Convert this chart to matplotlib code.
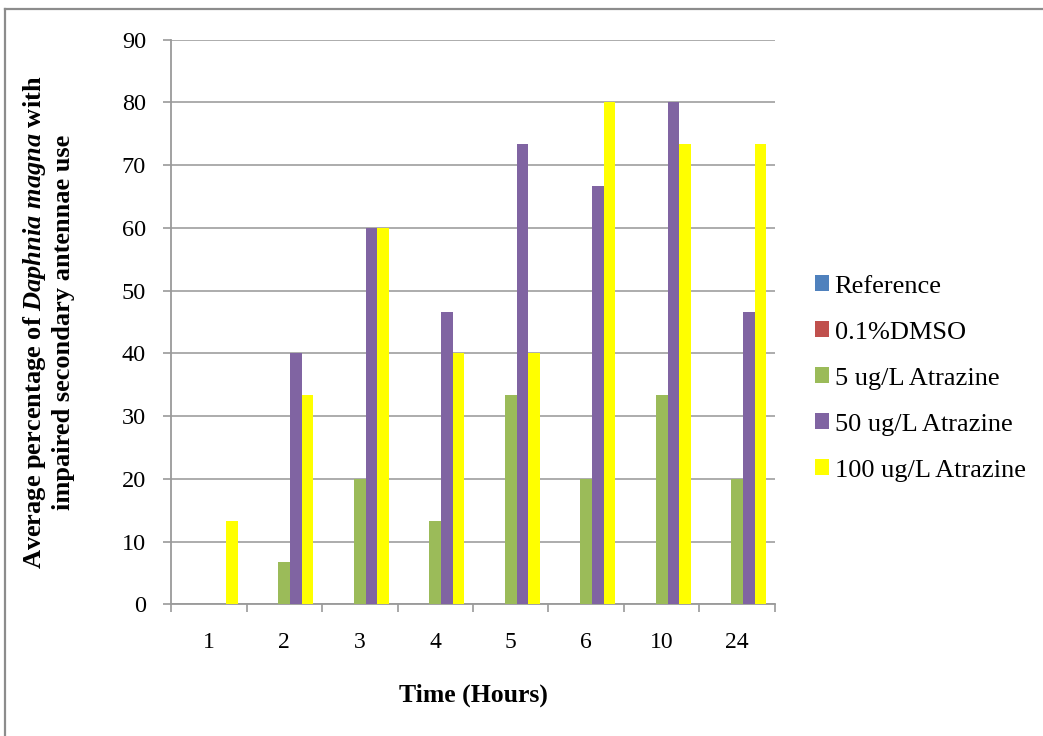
import matplotlib
matplotlib.use("Agg")
import matplotlib.pyplot as plt
import numpy as np
from matplotlib.lines import Line2D

hours = ["1", "2", "3", "4", "5", "6", "10", "24"]
series_names = ["Reference", "0.1%DMSO", "5 ug/L Atrazine", "50 ug/L Atrazine", "100 ug/L Atrazine"]
reference = [0, 0, 0, 0, 0, 0, 0, 0]
dmso = [0, 0, 0, 0, 0, 0, 0, 0]
atrazine_5 = [0, 6.67, 20, 13.33, 33.33, 20, 33.33, 20]
atrazine_50 = [0, 40, 60, 46.67, 73.33, 66.67, 80, 46.67]
atrazine_100 = [13.33, 33.33, 60, 40, 40, 80, 73.33, 73.33]
colors = ["#4f81bd", "#c0504d", "#9bbb59", "#8064a2", "#ffff00"]

plt.rcParams["font.family"] = ["Liberation Serif", "DejaVu Serif"]
plt.rcParams["mathtext.fontset"] = "custom"
plt.rcParams["mathtext.it"] = "Liberation Serif:italic:bold"
plt.rcParams["mathtext.rm"] = "Liberation Serif:bold"

fig = plt.figure(figsize=(10.43, 7.36), dpi=100)
ax = fig.add_axes([0.164, 0.179, 0.579, 0.767])

data = [reference, dmso, atrazine_5, atrazine_50, atrazine_100]
n = len(data)
gap = 1.5
bw = 1.0 / (n + gap)
x = np.arange(len(hours))
for i, (vals, name, c) in enumerate(zip(data, series_names, colors)):
    offs = (i - (n - 1) / 2) * bw
    ax.bar(x + offs, vals, width=bw, color=c, label=name, zorder=3, linewidth=0)

ax.set_xlim(-0.5, len(hours) - 0.5)
ax.set_ylim(0, 90)
ax.set_yticks(np.arange(0, 91, 10))
ax.set_xticks(x)
ax.set_xticklabels(hours)
ax.set_xticks(np.arange(-0.5, len(hours), 1), minor=True)
ax.tick_params(axis="x", which="major", length=0, pad=20, labelsize=17)
ax.tick_params(axis="x", which="minor", length=6, color="#9a9a9a", width=1.2)
ax.tick_params(axis="y", length=6, color="#9a9a9a", width=1.2, labelsize=17.5, pad=12)
ax.grid(axis="y", color="#a6a6a6", linewidth=1.3, zorder=0)
for s in ["top", "right"]:
    ax.spines[s].set_visible(False)
for s in ["left", "bottom"]:
    ax.spines[s].set_color("#9a9a9a")
    ax.spines[s].set_linewidth(1.3)

ax.set_xlabel("Time (Hours)", fontsize=18.5, fontweight="bold", labelpad=22)
ax.set_ylabel("Average percentage of $\\mathit{Daphnia\\ magna}$ with\nimpaired secondary antennae use",
              fontsize=19, fontweight="bold", labelpad=34, linespacing=1.2)

leg = ax.legend(loc="center left", bbox_to_anchor=(1.066, 0.40), frameon=False,
                fontsize=19, handlelength=0.55, handleheight=0.55, handletextpad=0.2,
                labelspacing=0.9, borderaxespad=0, borderpad=0)

# frame edges along the top and left of the figure
fig.add_artist(Line2D([0.0048, 1.0], [0.988, 0.988], transform=fig.transFigure,
                      color="#8c8c8c", linewidth=1.6))
fig.add_artist(Line2D([0.0048, 0.0048], [0.0, 0.988], transform=fig.transFigure,
                      color="#8c8c8c", linewidth=1.6))

fig.savefig("out.png", dpi=100)
